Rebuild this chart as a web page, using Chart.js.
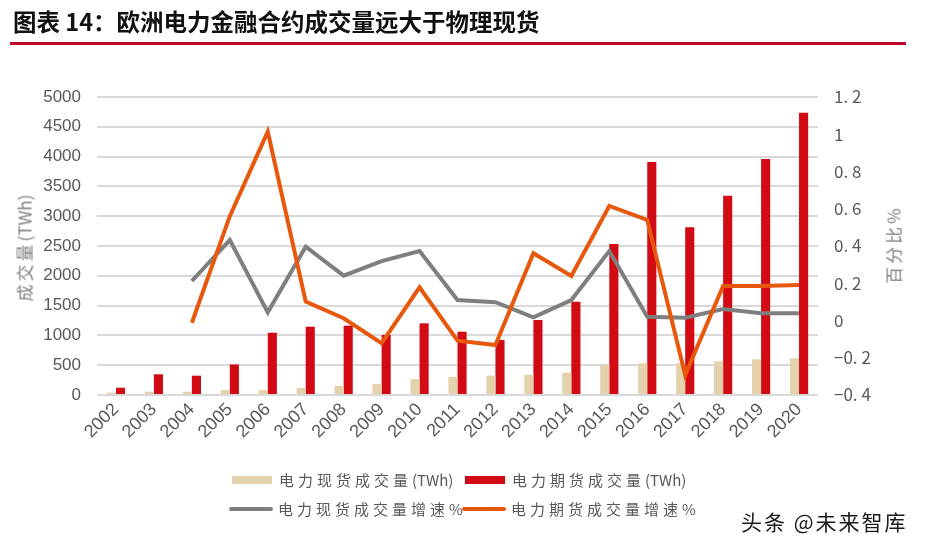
<!DOCTYPE html>
<html>
<head>
<meta charset="utf-8">
<script src="https://cdn.jsdelivr.net/npm/chart.js@4"></script>
<style>
    html, body { margin: 0; padding: 0; background: #fff; }
    #wrap { position: relative; width: 927px; height: 550px; overflow: hidden; }
    #box { position: absolute; left: 0; top: 0; width: 927px; height: 550px; }
    .title { position: absolute; left: 13px; top: 4px; font: bold 23.5px "Noto Sans CJK SC", sans-serif; color: #111; white-space: nowrap; }
    .rule { position: absolute; left: 10px; top: 42px; width: 896px; height: 3px; background: #C0052B; }
    .ytitle { position: absolute; font: 17px "Noto Sans CJK SC", sans-serif; color: #7f7f7f;
              white-space: nowrap; transform: translate(-50%, -50%) rotate(-90deg); }
    .ytitle .cjk { letter-spacing: 3px; }
    .legend { position: absolute; font: 15px "Noto Sans CJK SC", sans-serif; color: #595959; white-space: nowrap; }
    .legend span { display: inline-block; vertical-align: middle; }
    .legend .cjk { letter-spacing: 4px; }
    .sw-bar { width: 40px; height: 8px; margin-right: 7px; }
    .sw-line { width: 44px; height: 4px; border-radius: 2px; margin-right: 5px; }
    .mark { position: absolute; left: 741px; top: 506px; font: 21px "Noto Sans CJK SC", sans-serif; color: #1a1a1a; letter-spacing: 2px; }
</style>
</head>
<body>
<div id="wrap">
    <div id="box"><canvas id="chart"></canvas></div>
    <div class="title">图表 14：欧洲电力金融合约成交量远大于物理现货</div>
    <div class="rule"></div>
    <div class="ytitle" style="left:24px; top:248px;"><span class="cjk">成交量</span>(TWh)</div>
    <div class="ytitle" style="left:893px; top:246px;"><span class="cjk">百分比</span>%</div>
    <div class="legend" style="left:232px; top:467px;"><span class="sw-bar" style="background:#E3D2AC"></span><span class="cjk">电力现货成交量</span><span>(TWh)</span></div>
    <div class="legend" style="left:465px; top:467px;"><span class="sw-bar" style="background:#D20A14"></span><span class="cjk">电力期货成交量</span><span>(TWh)</span></div>
    <div class="legend" style="left:229px; top:496px;"><span class="sw-line" style="background:#7f7f7f"></span><span class="cjk">电力现货成交量增速</span><span>%</span></div>
    <div class="legend" style="left:462px; top:496px;"><span class="sw-line" style="background:#E8580C"></span><span class="cjk">电力期货成交量增速</span><span>%</span></div>
    <div class="mark">头条 @未来智库</div>
</div>
<script>
const years = ["2002", "2003", "2004", "2005", "2006", "2007", "2008", "2009", "2010", "2011",
    "2012", "2013", "2014", "2015", "2016", "2017", "2018", "2019", "2020"];

// 电力现货成交量 (TWh)
const spotVolume = [40, 55, 55, 84, 84, 117, 151, 185, 268, 305,
    324, 341, 374, 503, 532, 532, 565, 599, 616];

// 电力期货成交量 (TWh)
const futuresVolume = [122, 347, 324, 512, 1045, 1146, 1163, 1007, 1203, 1062,
    923, 1258, 1566, 2534, 3909, 2813, 3345, 3960, 4737];

// 增速 (right axis)
const spotGrowth = [null, null, 0.212, 0.432, 0.044, 0.396, 0.241, 0.319, 0.373, 0.110,
    0.098, 0.017, 0.110, 0.373, 0.020, 0.015, 0.062, 0.039, 0.039];
const futuresGrowth = [null, null, -0.012, 0.56, 1.014, 0.101, 0.012, -0.122, 0.178, -0.108,
    -0.132, 0.361, 0.239, 0.615, 0.540, -0.293, 0.185, 0.185, 0.191];

const tickColor = "#595959";
const gridColor = "#D9D9D9";

new Chart(document.getElementById("chart"), {
    type: "bar",
    data: {
        labels: years,
        datasets: [
            {
                type: "line",
                label: "电力现货成交量增速%",
                data: spotGrowth,
                yAxisID: "y1",
                borderColor: "#7f7f7f",
                borderWidth: 4,
                pointRadius: 0,
                tension: 0,
                order: 1,
            },
            {
                type: "line",
                label: "电力期货成交量增速%",
                data: futuresGrowth,
                yAxisID: "y1",
                borderColor: "#E8580C",
                borderWidth: 4,
                pointRadius: 0,
                tension: 0,
                order: 0,
            },
            {
                label: "电力现货成交量(TWh)",
                data: spotVolume,
                yAxisID: "y",
                backgroundColor: "#E3D2AC",
                categoryPercentage: 0.48,
                barPercentage: 1.0,
                order: 2,
            },
            {
                label: "电力期货成交量(TWh)",
                data: futuresVolume,
                yAxisID: "y",
                backgroundColor: "#D20A14",
                categoryPercentage: 0.48,
                barPercentage: 1.0,
                order: 2,
            },
        ]
    },
    options: {
        responsive: true,
        maintainAspectRatio: false,
        animation: false,
        layout: { padding: { top: 97, bottom: 95, left: 0, right: 0 } },
        plugins: {
            legend: { display: false },
            tooltip: { enabled: false },
        },
        scales: {
            x: {
                grid: { display: false, drawTicks: false },
                border: { display: false },
                ticks: {
                    color: tickColor,
                    font: { family: "Liberation Sans", size: 18 },
                    minRotation: 45,
                    maxRotation: 45,
                    padding: 4,
                },
                afterFit(s) {
                    s.height = 60;
                    s.paddingLeft = 0;
                    s.paddingRight = 0;
                },
            },
            y: {
                position: "left",
                min: 0,
                max: 5000,
                grid: { color: gridColor, lineWidth: 2, drawTicks: false },
                border: { display: false },
                ticks: {
                    stepSize: 500,
                    color: tickColor,
                    font: { family: "Liberation Sans", size: 17 },
                    padding: 16,
                    callback: (v) => String(v),
                },
                afterFit(s) {
                    s.width = 97;
                    s.paddingTop = 0;
                    s.paddingBottom = 0;
                },
            },
            y1: {
                position: "right",
                min: -0.4,
                max: 1.2,
                grid: { display: false, drawTicks: false },
                border: { display: false },
                ticks: {
                    stepSize: 0.2,
                    color: tickColor,
                    font: { family: "Noto Sans CJK SC", size: 17 },
                    padding: 16,
                    callback: (v) => {
                        const r = Math.round(v * 10) / 10;
                        return String(r).replace(".", ". ").replace("-", "−");
                    },
                },
                afterFit(s) {
                    s.width = 109;
                    s.paddingTop = 0;
                    s.paddingBottom = 0;
                },
            },
        }
    }
});
</script>
</body>
</html>
